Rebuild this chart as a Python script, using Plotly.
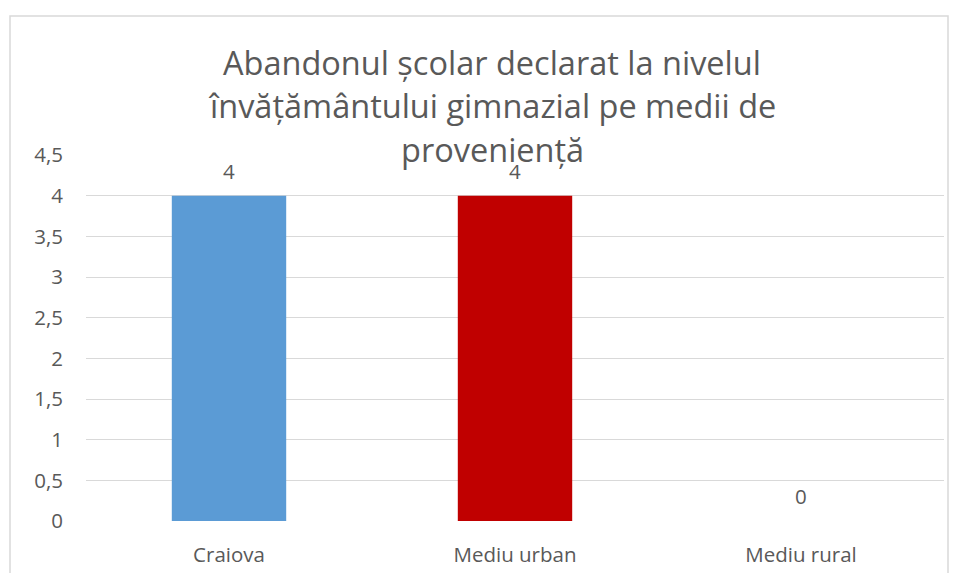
import plotly.graph_objects as go

categories = ["Craiova", "Mediu urban", "Mediu rural"]
values = [4, 4, 0]
colors = ["#5B9BD5", "#C00000", "#A5A5A5"]
tick_vals = [0, 0.5, 1, 1.5, 2, 2.5, 3, 3.5, 4, 4.5]
tick_text = ["0", "0,5", "1", "1,5", "2", "2,5", "3", "3,5", "4", "4,5"]
title_lines = ["Abandonul școlar declarat la nivelul",
               "învățământului gimnazial pe medii de",
               "proveniență"]

# page has an 8px body margin; figure coords = page coords - 8
OFF = 8
W, H = 957 - 2 * OFF, 581 - 2 * OFF
PX0, PX1, PY0, PY1 = 86 - OFF, 944 - OFF, 155 - OFF, 526 - OFF
L, R, T, B = PX0, W - PX1, PY0, H - PY1
PW, PH = PX1 - PX0, PY1 - PY0
FONT = "Open Sans"
GREY = "#595959"
TICK = 20.5


def fx(px):
    return (px - OFF - PX0) / PW


def fy(py):
    return (PY1 - (py - OFF)) / PH


fig = go.Figure()
fig.add_trace(go.Bar(
    x=categories, y=values, marker_color=colors, width=0.4,
    marker_line_width=0, hoverinfo="x+y",
))

annotations = []
for c, v in zip(categories, values):
    annotations.append(dict(x=c, y=v, xref="x", yref="y", text=str(v),
                            showarrow=False, yanchor="middle", yshift=25,
                            font=dict(family=FONT, size=TICK, color=GREY)))
for i, (line, py) in enumerate(zip(title_lines, [61, 105, 149])):
    annotations.append(dict(text=line, xref="paper", yref="paper",
                            x=fx(492), y=fy(py), xanchor="center", yanchor="middle",
                            showarrow=False,
                            font=dict(family=FONT, size=32.5, color=GREY)))

fig.update_layout(
    width=W, height=H,
    margin=dict(l=L, r=R, t=T, b=B),
    paper_bgcolor="white", plot_bgcolor="white",
    showlegend=False,
    font=dict(family=FONT, color=GREY, size=TICK),
    xaxis=dict(showgrid=False, showline=False, ticks="", ticklabelstandoff=19,
               tickfont=dict(size=TICK, color=GREY)),
    yaxis=dict(range=[0, 4.5], tickvals=tick_vals, ticktext=tick_text,
               showgrid=True, gridcolor="#D9D9D9", gridwidth=1.3, zeroline=False,
               showline=False, ticks="", ticklabelstandoff=22,
               tickfont=dict(size=TICK, color=GREY)),
    annotations=annotations,
    shapes=[dict(type="rect", xref="paper", yref="paper",
                 x0=fx(10), x1=fx(948), y0=-0.5, y1=fy(14),
                 line=dict(color="#D9D9D9", width=1.5), layer="below")],
)
fig.write_html("out.html")
